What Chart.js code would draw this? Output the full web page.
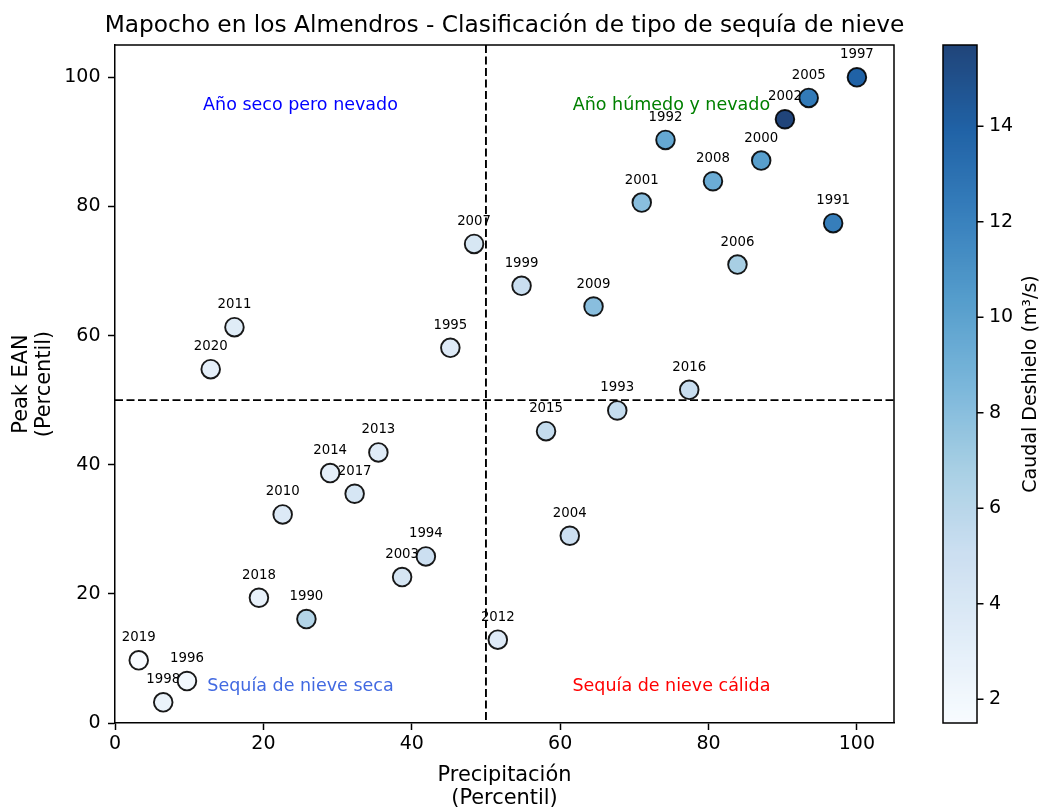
<!DOCTYPE html>
<html>
<head>
<meta charset="utf-8">
<script src="https://cdn.jsdelivr.net/npm/chart.js@4/dist/chart.umd.min.js"></script>
<style>body{margin:0;background:#fff}</style>
</head>
<body>
<canvas id="chart" width="1042" height="808"></canvas>
<script>
// datos
var years=[1990,1991,1992,1993,1994,1995,1996,1997,1998,1999,2000,2001,2002,2003,2004,2005,2006,2007,2008,2009,2010,2011,2012,2013,2014,2015,2016,2017,2018,2019,2020];
var precip=[25.8,96.8,74.2,67.7,41.9,45.2,9.7,100,6.5,54.8,87.1,71.0,90.3,38.7,61.3,93.5,83.9,48.4,80.6,64.5,22.6,16.1,51.6,35.5,29.0,58.1,77.4,32.3,19.4,3.2,12.9];
var peakEAN=[16.1,77.4,90.3,48.4,25.8,58.1,6.5,100,3.2,67.7,87.1,80.6,93.5,22.6,29.0,96.8,71.0,74.2,83.9,64.5,32.3,61.3,12.9,41.9,38.7,45.2,51.6,35.5,19.4,9.7,54.8];
var caudal=[6.2,12.2,9.6,5.4,5.0,3.6,1.9,13.9,2.5,5.2,10.2,8.0,15.7,4.3,5.0,12.5,6.8,4.1,9.3,8.0,3.7,3.4,3.6,3.5,3.0,5.4,5.2,4.2,2.8,1.5,3.0];

var xTicks=[0,20,40,60,80,100];
var yTicks=[0,20,40,60,80,100];
var cbTicks=[2,4,6,8,10,12,14];
var cbMin=1.5, cbMax=15.7;

var quadLabels=["Año seco pero nevado","Año húmedo y nevado","Sequía de nieve seca","Sequía de nieve cálida"];
var quadX=[25,75,25,75];
var quadY=[95,95,5,5];
var quadColors=["#0000ff","#008000","#4169e1","#ff0000"];

var titleText='Mapocho en los Almendros - Clasificación de tipo de sequía de nieve';
var FONT="'DejaVu Sans', sans-serif";
var BLUES=[[247,251,255],[222,235,247],[198,219,239],[158,202,225],[107,174,214],[66,146,198],[33,113,181],[8,81,156],[8,48,107]];

function blues(v){
  var t=(v-cbMin)/(cbMax-cbMin);
  t=Math.max(0,Math.min(1,t));
  var p=t*(BLUES.length-1);
  var i=Math.min(Math.floor(p),BLUES.length-2);
  var f=p-i;
  var a=BLUES[i], b=BLUES[i+1];
  return [0,1,2].map(function(k){return Math.round(a[k]+(b[k]-a[k])*f);});
}
function rgba(c,al){return 'rgba('+c[0]+','+c[1]+','+c[2]+','+al+')';}

var points=years.map(function(yr,i){return {x:precip[i],y:peakEAN[i]};});

function fixSize(w,h){
  return function(s){
    if(w!=null) s.width=w;
    if(h!=null) s.height=h;
    s.paddingTop=0; s.paddingBottom=0; s.paddingLeft=0; s.paddingRight=0;
  };
}

var extras={
  id:'extras',
  beforeDatasetsDraw:function(chart){
    var c=chart.ctx, a=chart.chartArea, xs=chart.scales.x, ys=chart.scales.y;
    c.save();
    c.font="23.3px "+FONT;
    c.fillStyle='#000';
    c.textAlign='center';
    c.textBaseline='alphabetic';
    c.fillText(titleText,(a.left+a.right)/2,a.top-13);
    c.font="17.5px "+FONT;
    quadLabels.forEach(function(t,i){
      c.fillStyle=quadColors[i];
      c.fillText(t,xs.getPixelForValue(quadX[i]),ys.getPixelForValue(quadY[i]));
    });
    c.font="13.3px "+FONT;
    c.fillStyle='#000';
    years.forEach(function(yr,i){
      c.fillText(String(yr),xs.getPixelForValue(precip[i]),ys.getPixelForValue(peakEAN[i])-19);
    });
    c.restore();
  },
  afterDatasetsDraw:function(chart){
    var c=chart.ctx, a=chart.chartArea, xs=chart.scales.x, ys=chart.scales.y;
    c.save();
    c.strokeStyle='#000';
    c.lineWidth=1.9;
    c.setLineDash([8,3.5]);
    var px=xs.getPixelForValue(50), py=ys.getPixelForValue(50);
    c.beginPath();
    c.moveTo(px,a.top); c.lineTo(px,a.bottom);
    c.moveTo(a.left,py); c.lineTo(a.right,py);
    c.stroke();
    c.restore();
  },
  afterDraw:function(chart){
    var c=chart.ctx, a=chart.chartArea, cb=chart.scales.cb;
    c.save();
    // marco superior y derecho
    c.strokeStyle='#000';
    c.lineWidth=1.5;
    c.beginPath();
    c.moveTo(a.left,a.top); c.lineTo(a.right,a.top); c.lineTo(a.right,a.bottom);
    c.stroke();
    // barra de color
    var x0=cb.left+49, w=34;
    var top=cb.getPixelForValue(cbMax), bot=cb.getPixelForValue(cbMin);
    for(var y=Math.floor(top);y<bot;y++){
      var v=cb.getValueForPixel(y+0.5);
      c.fillStyle=rgba(blues(v),0.9);
      c.fillRect(x0,y,w,1);
    }
    c.strokeRect(x0,top,w,bot-top);
    c.beginPath();
    cbTicks.forEach(function(t){
      var yy=cb.getPixelForValue(t);
      c.moveTo(x0+w,yy); c.lineTo(x0+w+6.5,yy);
    });
    c.stroke();
    c.translate(1031,(top+bot)/2);
    c.rotate(-Math.PI/2);
    c.font="19px "+FONT;
    c.fillStyle='#000';
    c.textAlign='center';
    c.textBaseline='middle';
    c.fillText('Caudal Deshielo (m³/s)',0,0);
    c.restore();
  }
};

var tickFont={family:FONT,size:19};
var axisTitleFont={family:FONT,size:20.9,lineHeight:1.1};

var chart=new Chart(document.getElementById('chart'),{
  type:'scatter',
  data:{datasets:[{
    data:points,
    backgroundColor:caudal.map(function(v){return rgba(blues(v),0.9);}),
    borderColor:'rgba(0,0,0,0.9)',
    borderWidth:1.9,
    pointRadius:9.3,
    pointHoverRadius:9.3
  }]},
  options:{
    responsive:false,
    animation:false,
    events:[],
    layout:{padding:{top:45,left:0,right:0,bottom:0},autoPadding:false},
    plugins:{
      legend:{display:false},
      tooltip:{enabled:false},
      title:{display:false}
    },
    scales:{
      x:{type:'linear',min:0,max:105,
        afterBuildTicks:function(s){s.ticks=xTicks.map(function(v){return {value:v};});},
        afterFit:fixSize(null,85),
        grid:{drawOnChartArea:false,tickLength:7,tickWidth:1.5,color:'#000'},
        border:{color:'#000',width:1.5},
        ticks:{font:tickFont,color:'#000',padding:3,maxRotation:0,autoSkip:false},
        title:{display:true,text:['Precipitación','(Percentil)'],font:axisTitleFont,color:'#000',padding:{top:0,bottom:-2}}
      },
      y:{type:'linear',position:'left',min:0,max:105,
        afterBuildTicks:function(s){s.ticks=yTicks.map(function(v){return {value:v};});},
        afterFit:fixSize(115,null),
        grid:{drawOnChartArea:false,tickLength:7,tickWidth:1.5,color:'#000'},
        border:{color:'#000',width:1.5},
        ticks:{font:tickFont,color:'#000',padding:7.5,autoSkip:false},
        title:{display:true,text:['Peak EAN','(Percentil)'],font:axisTitleFont,color:'#000',padding:{top:10,bottom:0}}
      },
      cb:{type:'linear',position:'right',min:cbMin,max:cbMax,
        afterBuildTicks:function(s){s.ticks=cbTicks.map(function(v){return {value:v};});},
        afterFit:fixSize(148,null),
        grid:{display:false,drawTicks:false},
        border:{display:false},
        ticks:{font:tickFont,color:'#000',padding:95,autoSkip:false}
      }
    }
  },
  plugins:[extras]
});
</script>
</body>
</html>
